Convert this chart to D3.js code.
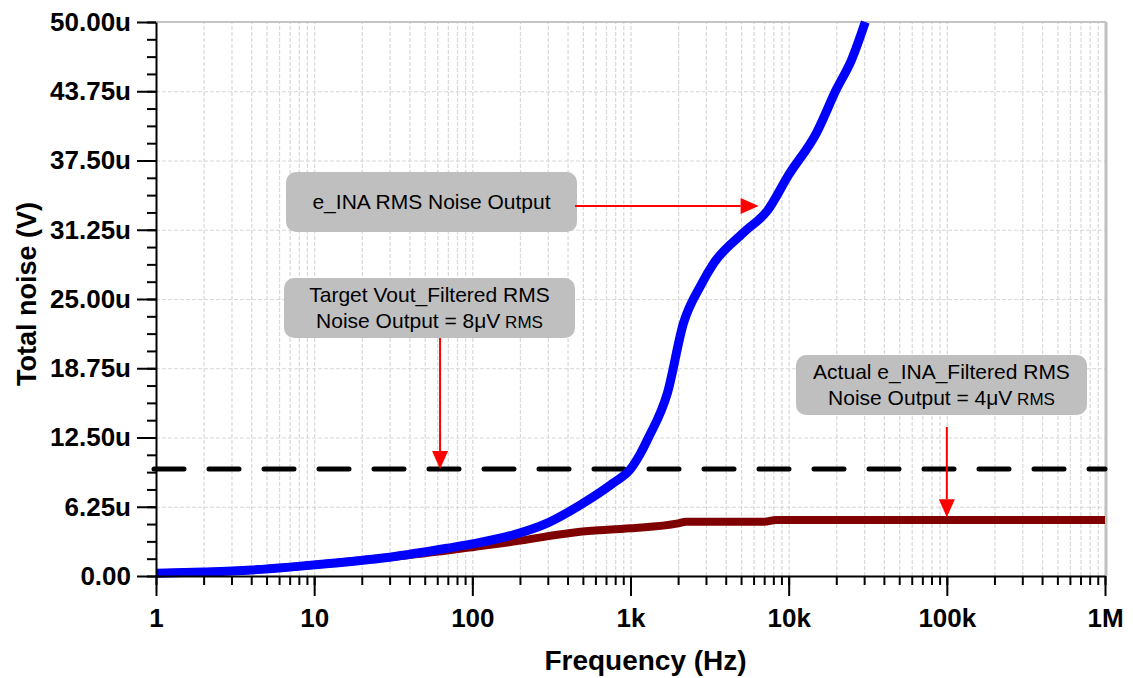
<!DOCTYPE html>
<html>
<head>
<meta charset="utf-8">
<script src="https://cdn.jsdelivr.net/npm/d3@7.9.0/dist/d3.min.js"></script>
<style>
  body { margin: 0; background: #fff; }
  svg { display: block; font-family: "Liberation Sans", Arial, sans-serif; }
  .grid line { stroke: #d8d8d8; stroke-width: 1.2; stroke-dasharray: 4,2; }
  .grid .domain { display: none; }
  .axis path, .axis line { stroke: #000; stroke-width: 2; }
  .axis text { font-size: 26px; font-weight: bold; fill: #000; }
  .note text { font-size: 21px; fill: #000; }
</style>
</head>
<body>
<div id="chart"></div>
<script>
// e_INA RMS noise output (blue), values in uV
const blueFreq = [1, 2, 4, 7, 13, 30, 69, 100, 180, 300, 480, 780, 1000, 1150, 1300, 1710, 2160, 2800, 3350, 5190, 7360, 10000, 15000, 20000, 25000, 30500];
const blueNoise = [0.25, 0.36, 0.54, 0.8, 1.15, 1.7, 2.5, 2.9, 3.7, 4.8, 6.4, 8.4, 9.65, 11.0, 12.5, 16.5, 22.8, 26.3, 28.2, 31.0, 33.0, 36.2, 40.0, 43.9, 46.6, 50.0];

// e_INA filtered RMS noise output (dark red), values in uV
const redFreq = [1, 2, 4, 7, 13, 30, 69, 100, 182, 480, 1000, 2000, 2250, 7000, 8300, 1000000];
const redNoise = [0.25, 0.36, 0.54, 0.8, 1.15, 1.7, 2.3, 2.6, 3.1, 4.0, 4.3, 4.75, 4.9, 4.9, 5.05, 5.05];

// target level (dashed), uV
const targetNoise = 9.65;

const xTickValues = [1, 10, 100, 1e3, 1e4, 1e5, 1e6];
const xTickLabels = ['1', '10', '100', '1k', '10k', '100k', '1M'];
const yTickValues = [0, 6.25, 12.5, 18.75, 25, 31.25, 37.5, 43.75, 50];

const width = 1133;
const height = 678;
const margin = { top: 22, right: 28, bottom: 102, left: 156 };
const usable = {
  left: margin.left,
  right: width - margin.right,
  top: margin.top,
  bottom: height - margin.bottom
};

const svg = d3.select('#chart')
  .append('svg')
    .attr('width', width)
    .attr('height', height);

const xScale = d3.scaleLog()
  .domain([1, 1e6])
  .range([usable.left, usable.right]);

const yScale = d3.scaleLinear()
  .domain([0, 50])
  .range([usable.bottom, usable.top]);

// minor decade values 1..9 x 10^k
const minorX = [];
for (let k = 0; k < 6; k++) {
  for (let m = 1; m < 10; m++) minorX.push(m * Math.pow(10, k));
}
minorX.push(1e6);
const minorY = d3.range(0, 50.001, 1.5625);

// gridlines
svg.append('g')
  .attr('class', 'grid')
  .attr('transform', `translate(0,${usable.bottom})`)
  .call(d3.axisBottom(xScale).tickValues(minorX.slice(1)).tickSize(-(usable.bottom - usable.top)).tickFormat(''));

svg.append('g')
  .attr('class', 'grid')
  .attr('transform', `translate(${usable.left},0)`)
  .call(d3.axisLeft(yScale).tickValues(yTickValues.slice(1)).tickSize(-(usable.right - usable.left)).tickFormat(''));

// frame top + right
svg.append('line')
  .attr('x1', usable.left).attr('x2', usable.right + 1)
  .attr('y1', usable.top).attr('y2', usable.top)
  .attr('stroke', '#c4c4c4').attr('stroke-width', 2);
svg.append('line')
  .attr('x1', usable.right + 1).attr('x2', usable.right + 1)
  .attr('y1', usable.top).attr('y2', usable.bottom)
  .attr('stroke', '#c0c0c0').attr('stroke-width', 3);

// target dashed line
svg.append('line')
  .attr('x1', usable.left - 2).attr('x2', usable.right)
  .attr('y1', yScale(targetNoise)).attr('y2', yScale(targetNoise))
  .attr('stroke', '#000')
  .attr('stroke-width', 5)
  .attr('stroke-linecap', 'round')
  .attr('stroke-dasharray', '30,25');

// curves
const line = (fx, vy) => d3.line()
  .x((d, i) => xScale(fx[i]))
  .y((d, i) => yScale(vy[i]))
  .curve(d3.curveMonotoneX)(fx);

svg.append('path')
  .attr('d', line(redFreq, redNoise))
  .attr('fill', 'none')
  .attr('stroke', '#7f0000')
  .attr('stroke-width', 8);

svg.append('path')
  .attr('d', line(blueFreq, blueNoise))
  .attr('fill', 'none')
  .attr('stroke', '#0000ff')
  .attr('stroke-width', 9);

// axes
svg.append('g')
  .attr('class', 'axis')
  .attr('transform', `translate(0,${usable.bottom})`)
  .call(d3.axisBottom(xScale).tickValues(minorX).tickSize(9).tickFormat(''))
  .call(g => g.select('.domain').remove());

svg.append('g')
  .attr('class', 'axis')
  .attr('transform', `translate(0,${usable.bottom})`)
  .call(d3.axisBottom(xScale)
    .tickValues(xTickValues)
    .tickSize(20)
    .tickSizeOuter(0)
    .tickPadding(13)
    .tickFormat((d, i) => xTickLabels[i]));

svg.append('g')
  .attr('class', 'axis')
  .attr('transform', `translate(${usable.left},0)`)
  .call(d3.axisLeft(yScale).tickValues(minorY).tickSize(9).tickFormat(''))
  .call(g => g.select('.domain').remove());

svg.append('g')
  .attr('class', 'axis')
  .attr('transform', `translate(${usable.left},0)`)
  .call(d3.axisLeft(yScale)
    .tickValues(yTickValues)
    .tickSize(19)
    .tickSizeOuter(0)
    .tickPadding(6)
    .tickFormat(d => d === 0 ? '0.00' : d.toFixed(2) + 'u'));

// axis titles
svg.append('text')
  .attr('x', (usable.left + usable.right) / 2 + 15)
  .attr('y', 670)
  .attr('text-anchor', 'middle')
  .attr('font-size', 28)
  .attr('font-weight', 'bold')
  .text('Frequency (Hz)');

svg.append('text')
  .attr('transform', 'translate(36,294) rotate(-90)')
  .attr('text-anchor', 'middle')
  .attr('font-size', 27)
  .attr('font-weight', 'bold')
  .text('Total noise (V)');

// annotations: box in pixels, arrow tip in data units
const notes = [
  { box: [286, 172, 291, 60], lines: [['e_INA RMS Noise Output', '']],
    from: [575, 206], tip: [6460, 33.4], dir: 'right' },
  { box: [284, 278, 291, 60], lines: [['Target Vout_Filtered RMS', ''], ['Noise Output = 8\u03BCV', ' RMS']],
    from: [440, 338], tip: [62.5, targetNoise], dir: 'down' },
  { box: [796, 355, 291, 60], lines: [['Actual e_INA_Filtered RMS', ''], ['Noise Output = 4\u03BCV', ' RMS']],
    from: [948, 427], tip: [1e5, 5.3], dir: 'down' }
];

const noteG = svg.append('g').attr('class', 'note');
notes.forEach(n => {
  const [bx, by, bw, bh] = n.box;
  noteG.append('rect')
    .attr('x', bx).attr('y', by).attr('width', bw).attr('height', bh)
    .attr('rx', 10)
    .attr('fill', '#bfbfbf');
  const cx = bx + bw / 2;
  const lineH = 26;
  const firstY = by + bh / 2 + 7 - (n.lines.length - 1) * lineH / 2;
  n.lines.forEach(([main, small], i) => {
    const t = noteG.append('text')
      .attr('x', cx)
      .attr('y', firstY + i * lineH)
      .attr('text-anchor', 'middle');
    t.append('tspan').text(main);
    if (small) t.append('tspan').attr('font-size', 17).text(small);
  });

  const tx = xScale(n.tip[0]);
  const ty = yScale(n.tip[1]);
  const head = 18, half = 8;
  if (n.dir === 'right') {
    noteG.append('line')
      .attr('x1', n.from[0]).attr('y1', ty).attr('x2', tx - head).attr('y2', ty)
      .attr('stroke', '#ff0000').attr('stroke-width', 2);
    noteG.append('path')
      .attr('d', `M${tx},${ty}L${tx - head},${ty - half}L${tx - head},${ty + half}Z`)
      .attr('fill', '#ff0000');
  } else {
    noteG.append('line')
      .attr('x1', tx).attr('y1', n.from[1]).attr('x2', tx).attr('y2', ty - head)
      .attr('stroke', '#ff0000').attr('stroke-width', 2);
    noteG.append('path')
      .attr('d', `M${tx},${ty}L${tx - half},${ty - head}L${tx + half},${ty - head}Z`)
      .attr('fill', '#ff0000');
  }
});
</script>
</body>
</html>
